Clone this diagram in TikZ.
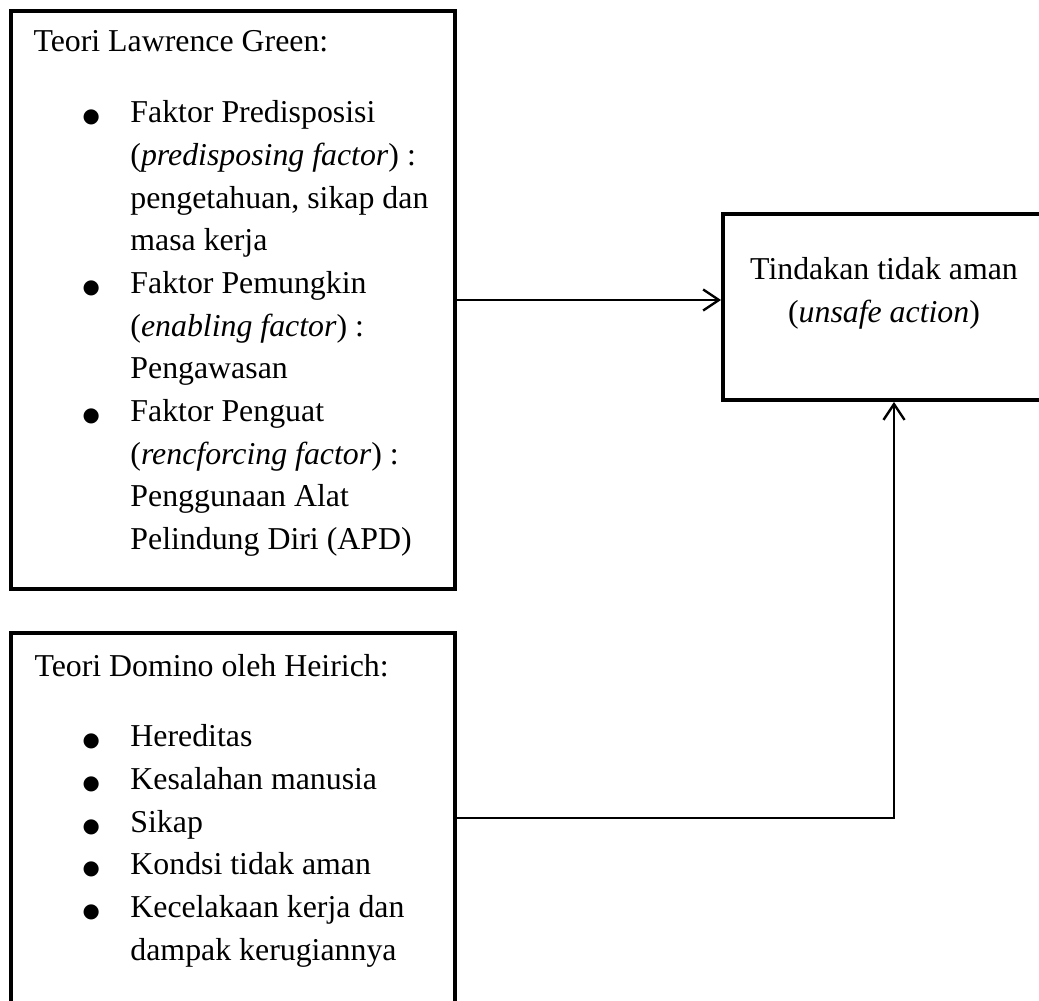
\documentclass[tikz,border=0pt]{standalone}
\usepackage{fontspec}
\setmainfont{Liberation Serif}
\newfontfamily\simbol{DejaVu Sans}
\usetikzlibrary{arrows.meta,fit}
\newcommand{\bul}{{\simbol\fontsize{7.5}{7.5}\selectfont ●}}

\begin{document}
\begin{tikzpicture}[x=0.38pt,y=-0.38pt,
		kotak/.style={draw,line width=1.5pt,inner sep=0pt},
		teks/.style={inner sep=0pt,anchor=base west,font=\fontsize{12.1}{16.2}\selectfont},
		panah/.style={line width=0.9pt,-{Straight Barb[length=6pt,width=8pt]}}]
			%%%%% START %%%%%
			\useasboundingbox (0,0) rectangle (1039,1001);
			
			\node[kotak, fit={(11,11) (455,589)}] (green) {};
			\node[kotak, fit={(11,633) (455,1003)}] (domino) {};
			\node[kotak, fit={(723,214) (1045,400)}] (tindakan) {};
			
			\node[teks] (judulgreen) at (33,52) {Teori Lawrence Green:};
			\node[teks] (faktor) at (82,123) {\begin{tabular}[t]{@{}p{18.2pt}@{}l@{}}
					\bul & Faktor Predisposisi\\
					& (\textit{predisposing factor}) :\\
					& pengetahuan, sikap dan\\
					& masa kerja\\
					\bul & Faktor Pemungkin\\
					& (\textit{enabling factor}) :\\
					& Pengawasan\\
					\bul & Faktor Penguat\\
					& (\textit{rencforcing factor}) :\\
					& Penggunaan Alat\\
					& Pelindung Diri (APD)
				\end{tabular}};
			
			\node[teks] (juduldomino) at (34,677) {Teori Domino oleh Heirich:};
			\node[teks] (domino list) at (82,747) {\begin{tabular}[t]{@{}p{18.2pt}@{}l@{}}
					\bul & Hereditas\\
					\bul & Kesalahan manusia\\
					\bul & Sikap\\
					\bul & Kondsi tidak aman\\
					\bul & Kecelakaan kerja dan\\
					& dampak kerugiannya
				\end{tabular}};
			
			\node[teks,anchor=base] (tindakanteks) at (884,280) {\begin{tabular}[t]{@{}c@{}}
					Tindakan tidak aman\\
					(\textit{unsafe action})
				\end{tabular}};
			
			\draw[panah] (green.east) -- (green.east -| tindakan.west);
			\draw[panah] (domino.east) -| ([xshift=3.8pt]tindakan.south);
			
			%%%%% END %%%%%
\end{tikzpicture}
\end{document}
